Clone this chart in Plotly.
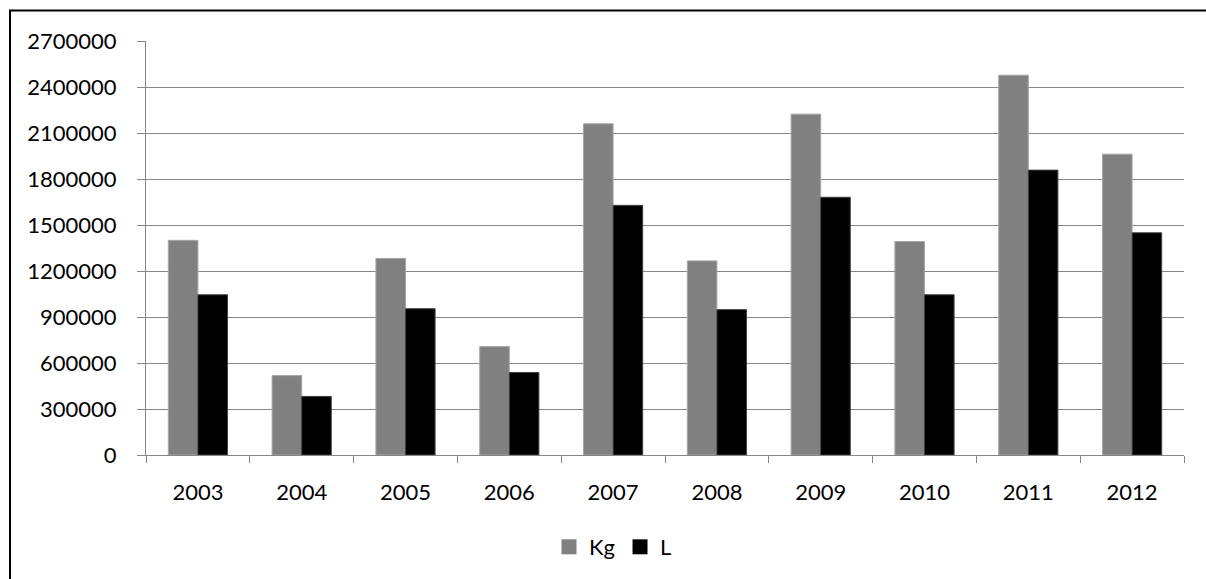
import plotly.graph_objects as go

years = ["2003", "2004", "2005", "2006", "2007", "2008", "2009", "2010", "2011", "2012"]
kg_values = [1400000, 518000, 1282000, 707000, 2160000, 1266000, 2223000, 1392000, 2477000, 1962000]
l_values = [1045000, 382000, 954000, 538000, 1628000, 948000, 1681000, 1045000, 1858000, 1449000]
y_ticks = [0, 300000, 600000, 900000, 1200000, 1500000, 1800000, 2100000, 2400000, 2700000]
y_tick_labels = [str(v) for v in y_ticks]

W, H = 1206, 579
L_M, R_M, T_M, B_M = 146, 22, 41, 123
PW = W - L_M - R_M
PH = H - T_M - B_M

FONT = "Lato, 'Open Sans', sans-serif"
GRID = "#868686"
KG_COLOR = "#808080"
L_COLOR = "#000000"

fig = go.Figure()
fig.add_trace(go.Bar(
    name="Kg", x=years, y=kg_values, showlegend=False, legendgroup="kg",
    marker=dict(color=KG_COLOR, line=dict(color="#a6a6a6", width=1)),
))
fig.add_trace(go.Bar(
    name="L", x=years, y=l_values, showlegend=False, legendgroup="l",
    marker=dict(color=L_COLOR, line=dict(color="#404040", width=1)),
))
# legend entries with larger square swatches
fig.add_trace(go.Scatter(
    name="Kg", x=[None], y=[None], mode="markers", legendgroup="kg",
    marker=dict(symbol="square", size=15, color=KG_COLOR, line=dict(width=0)),
))
fig.add_trace(go.Scatter(
    name="L", x=[None], y=[None], mode="markers", legendgroup="l",
    marker=dict(symbol="square", size=15, color=L_COLOR, line=dict(width=0)),
))

def px_x(px):
    return (px - L_M) / PW

def px_y(py):
    return (H - B_M - py) / PH

fig.update_layout(
    width=W, height=H,
    margin=dict(l=L_M, r=R_M, t=T_M, b=B_M, pad=0),
    paper_bgcolor="white", plot_bgcolor="white",
    barmode="group", bargap=0.43, bargroupgap=0,
    font=dict(family=FONT, size=22, color="black"),
    showlegend=True,
    legend=dict(
        orientation="h", x=px_x(613), xanchor="center",
        y=px_y(547), yanchor="middle",
        font=dict(family=FONT, size=22, color="black"),
        itemwidth=30, bgcolor="rgba(0,0,0,0)", tracegroupgap=0,
    ),
    xaxis=dict(
        type="category", showgrid=False, showline=True, linecolor=GRID, linewidth=1,
        ticks="outside", tickson="boundaries", ticklen=7, tickcolor=GRID, tickwidth=1,
        ticklabelstandoff=18, tickfont=dict(family=FONT, size=22, color="black"),
        fixedrange=True,
    ),
    yaxis=dict(
        range=[0, 2700000], tickvals=y_ticks, ticktext=y_tick_labels,
        showgrid=True, gridcolor=GRID, gridwidth=1, zeroline=False,
        showline=True, linecolor=GRID, linewidth=1,
        ticks="outside", ticklen=8, tickcolor=GRID, tickwidth=1,
        ticklabelstandoff=16, tickfont=dict(family=FONT, size=22, color="black"),
        fixedrange=True,
    ),
    shapes=[dict(
        type="rect", xref="paper", yref="paper",
        x0=px_x(10), x1=px_x(1230), y0=px_y(600), y1=px_y(10.5),
        line=dict(color="black", width=2), fillcolor="rgba(0,0,0,0)", layer="above",
    )],
)

fig.write_html(
    "out.html",
    config={"displayModeBar": False},
    post_script="document.body.style.margin='0';document.body.style.overflow='hidden';",
)
